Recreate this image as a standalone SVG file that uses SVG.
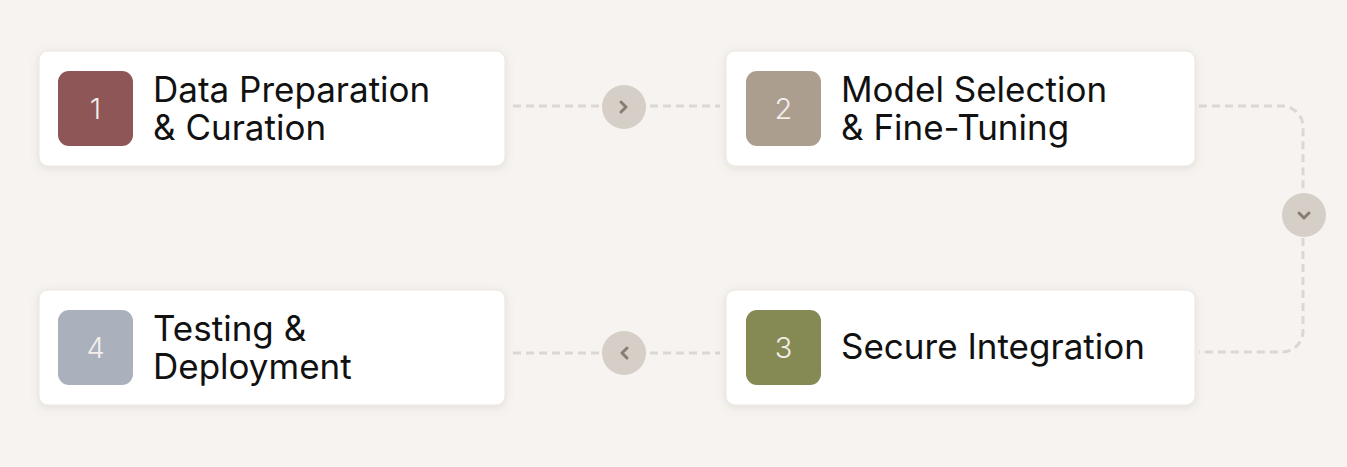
<svg xmlns="http://www.w3.org/2000/svg" width="1347" height="467" viewBox="0 0 1347 467">
  <defs>
    <filter id="shadow" x="-10%" y="-30%" width="120%" height="160%">
      <feDropShadow dx="0" dy="2" stdDeviation="4" flood-color="#8a7f74" flood-opacity="0.18"/>
    </filter>
    <style>
      .card { fill: #ffffff; stroke: #ebe7e2; stroke-width: 1; filter: url(#shadow); }
      .label { font-family: Inter, "Liberation Sans", sans-serif; font-size: 35px; fill: #111111; }
      .num { font-family: Inter, "Liberation Sans", sans-serif; font-size: 29px; font-weight: 300; fill: #f4efec; text-anchor: middle; }
      .dash { fill: none; stroke: #dcd7d1; stroke-width: 3; stroke-dasharray: 8 5; }
      .hub { fill: #d6cfc7; }
      .chev { fill: none; stroke: #877d74; stroke-width: 3; stroke-linecap: round; stroke-linejoin: round; }
    </style>
  </defs>
  <rect x="0" y="0" width="1347" height="467" fill="#f6f3f0"/>

  <g id="connectors">
    <line class="dash" x1="513" y1="106" x2="600" y2="106"/>
    <line class="dash" x1="650" y1="106" x2="720" y2="106"/>
    <circle class="hub" cx="624" cy="107" r="22"/>
    <polyline class="chev" points="621,102 626,107 621,112"/>

    <path class="dash" d="M1199,106 H1282 A21,21 0 0 1 1303,127 V193"/>
    <path class="dash" d="M1303,238 V331 A21,21 0 0 1 1282,352 H1199"/>
    <circle class="hub" cx="1304" cy="215" r="22"/>
    <polyline class="chev" points="1299,213 1304,218 1309,213"/>

    <line class="dash" x1="513" y1="353" x2="600" y2="353"/>
    <line class="dash" x1="650" y1="353" x2="720" y2="353"/>
    <circle class="hub" cx="624" cy="353" r="22"/>
    <polyline class="chev" points="627,348 622,353 627,358"/>
  </g>

  <g id="node1">
    <rect class="card" x="39" y="51" width="466" height="115" rx="9"/>
    <rect x="58" y="71" width="75" height="75" rx="11" fill="#8e5656"/>
    <text class="num" x="95.5" y="119">1</text>
    <text class="label" x="153" y="102">Data Preparation</text>
    <text class="label" x="153" y="140">&amp; Curation</text>
  </g>

  <g id="node2">
    <rect class="card" x="726" y="51" width="469" height="115" rx="9"/>
    <rect x="746" y="71" width="75" height="75" rx="11" fill="#ab9e8f"/>
    <text class="num" x="783.5" y="119">2</text>
    <text class="label" x="841" y="102">Model Selection</text>
    <text class="label" x="841" y="140">&amp; Fine-Tuning</text>
  </g>

  <g id="node3">
    <rect class="card" x="726" y="290" width="469" height="115" rx="9"/>
    <rect x="746" y="310" width="75" height="75" rx="11" fill="#858a55"/>
    <text class="num" x="783.5" y="358">3</text>
    <text class="label" x="841" y="359">Secure Integration</text>
  </g>

  <g id="node4">
    <rect class="card" x="39" y="290" width="466" height="115" rx="9"/>
    <rect x="58" y="310" width="75" height="75" rx="11" fill="#aab1bd"/>
    <text class="num" x="95.5" y="358">4</text>
    <text class="label" x="153" y="341">Testing &amp;</text>
    <text class="label" x="153" y="379">Deployment</text>
  </g>
</svg>
